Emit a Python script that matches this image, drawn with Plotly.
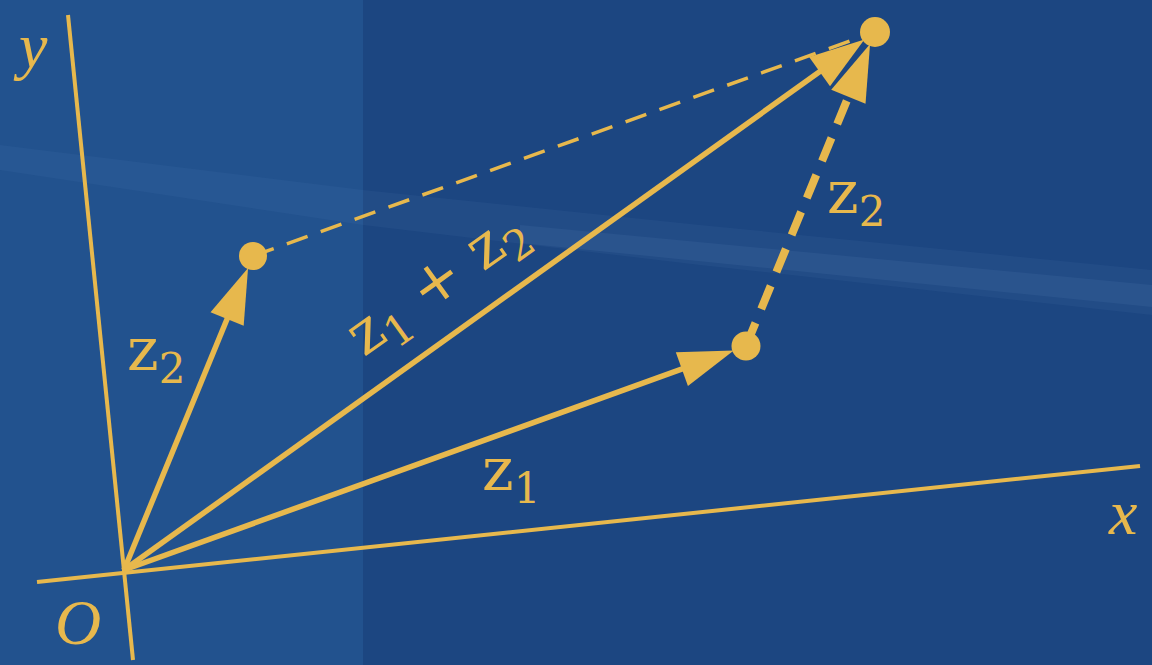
import math
import plotly.graph_objects as go

# ---- data (picture units: x to the right, y upward) ----
ORIGIN = [124, 95]
Z1 = [622, 224]          # vector z1
Z2 = [129, 314]          # vector z2
POINT_NAMES = ["z1", "z2", "z1+z2"]
AXIS_X_LINE = [[37, 1140], [83, 199]]
AXIS_Y_LINE = [[68, 133], [650, 5]]
AXIS_LABELS = ["x", "y", "O"]

GOLD = "#e7b84d"
BG_DARK = "#1c4681"
BG_LIGHT = "#22528e"
W, H = 1152, 665

tip1 = [ORIGIN[0] + Z1[0], ORIGIN[1] + Z1[1]]
tip2 = [ORIGIN[0] + Z2[0], ORIGIN[1] + Z2[1]]
tipS = [ORIGIN[0] + Z1[0] + Z2[0], ORIGIN[1] + Z1[1] + Z2[1]]

fig = go.Figure()


def back(tail, tip, d):
    dx, dy = tip[0] - tail[0], tip[1] - tail[1]
    L = math.hypot(dx, dy)
    return [tip[0] - dx / L * d, tip[1] - dy / L * d]


def line(p, q, width, dash="solid"):
    fig.add_trace(go.Scatter(x=[p[0], q[0]], y=[p[1], q[1]], mode="lines",
                             line=dict(color=GOLD, width=width, dash=dash),
                             hoverinfo="skip"))


def vector(tail, tip, width, standoff, hsize, dash="solid"):
    apex = back(tail, tip, standoff)
    line(tail, back(tail, tip, standoff + 26), width, dash)
    pre = back(tail, tip, standoff + 10)
    fig.add_trace(go.Scatter(x=[pre[0], apex[0]], y=[pre[1], apex[1]], mode="markers",
                             marker=dict(symbol=["circle", "arrow"], size=[0, hsize],
                                         angleref="previous", color=GOLD, opacity=1,
                                         line=dict(width=0)),
                             hoverinfo="skip"))


# axes
line([AXIS_X_LINE[0][0], AXIS_X_LINE[1][0]], [AXIS_X_LINE[0][1], AXIS_X_LINE[1][1]], 4)
line([AXIS_Y_LINE[0][0], AXIS_Y_LINE[1][0]], [AXIS_Y_LINE[0][1], AXIS_Y_LINE[1][1]], 4)

# thin dashed line z2 tip -> sum
line(tip2, back(tip2, tipS, 26), 3.5, "22px,14px")

# vectors
vector(ORIGIN, tip2, 5.5, 13, 58)
vector(ORIGIN, tip1, 5.5, 13, 58)
vector(ORIGIN, tipS, 5.5, 13, 58)
vector(tip1, tipS, 8, 13, 60, dash="25px,15px")

# dots
fig.add_trace(go.Scatter(x=[tip1[0], tip2[0], tipS[0]], y=[tip1[1], tip2[1], tipS[1]],
                         mode="markers", text=POINT_NAMES, hoverinfo="text",
                         marker=dict(color=GOLD, size=[29, 28, 30], opacity=1,
                                     line=dict(width=0))))

ann = []
ZFONT = dict(family="DejaVu Serif, Liberation Serif, serif", size=60, color=GOLD)
IFONT = dict(family="Liberation Serif, DejaVu Serif, serif", size=64, color=GOLD)


def label(x, y, txt, font, angle=0):
    ann.append(dict(x=x, y=y, xref="x", yref="y", text=txt, showarrow=False,
                    font=font, textangle=angle, xanchor="center", yanchor="middle"))


sum_angle = -math.degrees(math.atan2(Z1[1] + Z2[1], Z1[0] + Z2[0]))
label(ORIGIN[0] + 0.42 * Z2[0] - 22, ORIGIN[1] + 0.42 * Z2[1] + 85, "z<sub>2</sub>", ZFONT)
label(ORIGIN[0] + 0.6 * Z1[0] + 14, ORIGIN[1] + 0.6 * Z1[1] - 38, "z<sub>1</sub>", ZFONT)
label(tip1[0] + 0.45 * Z2[0] + 52, tip1[1] + 0.45 * Z2[1] + 8, "z<sub>2</sub>", ZFONT)
label(ORIGIN[0] + 0.42 * (Z1[0] + Z2[0]) - 2, ORIGIN[1] + 0.42 * (Z1[1] + Z2[1]) + 60,
      "z<sub>1</sub> + z<sub>2</sub>", ZFONT, sum_angle)
label(AXIS_X_LINE[0][1] - 18, AXIS_X_LINE[1][1] - 46, "<i>" + AXIS_LABELS[0] + "</i>", IFONT)
label(AXIS_Y_LINE[0][0] - 38, AXIS_Y_LINE[1][0] - 30, "<i>" + AXIS_LABELS[1] + "</i>", IFONT)
label(ORIGIN[0] - 46, ORIGIN[1] - 52, "<i>" + AXIS_LABELS[2] + "</i>", IFONT)

shapes = [
    dict(type="rect", xref="x", yref="y", x0=0, x1=363, y0=0, y1=H,
         fillcolor=BG_LIGHT, line=dict(width=0), layer="below"),
    dict(type="path", xref="x", yref="y",
         path="M 0 520 L 363 475 L 700 440 L 1152 395 L 1152 350 L 700 400 L 363 440 L 0 495 Z",
         fillcolor="rgba(120,160,210,0.07)", line=dict(width=0), layer="below"),
    dict(type="path", xref="x", yref="y",
         path="M 520 440 L 1152 380 L 1152 358 L 520 422 Z",
         fillcolor="rgba(140,180,225,0.08)", line=dict(width=0), layer="below"),
]

fig.update_layout(
    width=W, height=H, margin=dict(l=0, r=0, t=0, b=0),
    paper_bgcolor=BG_DARK, plot_bgcolor=BG_DARK, showlegend=False,
    xaxis=dict(range=[0, W], visible=False, fixedrange=True),
    yaxis=dict(range=[0, H], visible=False, fixedrange=True),
    annotations=ann, shapes=shapes,
)

fig.write_html("out.html", config={"displayModeBar": False},
               post_script="document.body.style.margin='0';document.body.style.overflow='hidden';")
